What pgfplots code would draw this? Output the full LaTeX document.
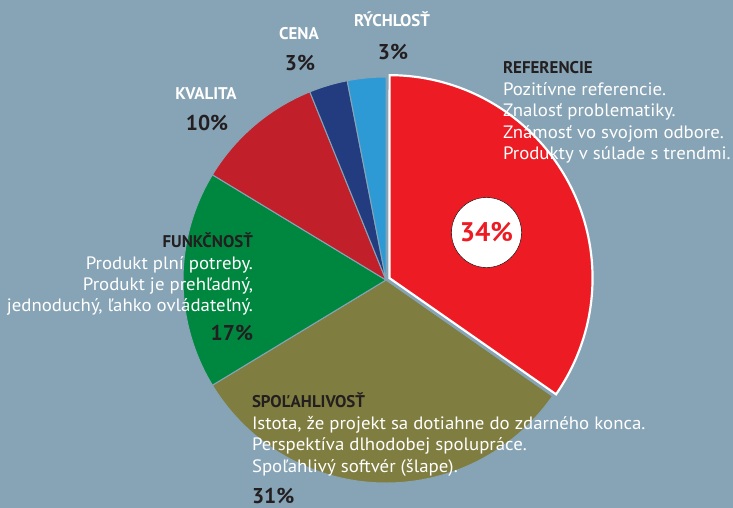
\documentclass[border=0pt]{standalone}
\usepackage{pgfplots}
\pgfplotsset{compat=1.18}
\usepackage{pgfplotstable}
\usepackage{fontspec}
\setmainfont{PT Sans}
\newfontfamily\descfont{PT Sans}[FakeStretch=1.05]
\definecolor{bgc}{HTML}{87A4B6}
\definecolor{redc}{HTML}{ED1C24}
\definecolor{olivec}{HTML}{7F7D3F}
\definecolor{greenc}{HTML}{00873F}
\definecolor{dredc}{HTML}{C1202A}
\definecolor{dbluec}{HTML}{233C80}
\definecolor{lbluec}{HTML}{2E9AD5}
\definecolor{txt}{HTML}{231F20}
\newcommand\desc{\descfont\fontsize{18}{18}\selectfont}
\newcommand\head{\bfseries\fontsize{17}{17}\selectfont}
\newcommand\pct{\bfseries\fontsize{21.5}{21.5}\selectfont}
\pgfplotstableread{
label value
Referencie 34
Spolahlivost 31
Funkcnost 17
Kvalita 10
Cena 3
Rychlost 3
}\pietable
\pgfplotstablegetelem{0}{value}\of\pietable\edef\vA{\pgfplotsretval}%
\pgfplotstablegetelem{1}{value}\of\pietable\edef\vB{\pgfplotsretval}%
\pgfplotstablegetelem{2}{value}\of\pietable\edef\vC{\pgfplotsretval}%
\pgfplotstablegetelem{3}{value}\of\pietable\edef\vD{\pgfplotsretval}%
\pgfplotstablegetelem{4}{value}\of\pietable\edef\vE{\pgfplotsretval}%
\pgfplotstablegetelem{5}{value}\of\pietable\edef\vF{\pgfplotsretval}%
\pgfmathsetmacro\tot{\vA+\vB+\vC+\vD+\vE+\vF}%
\pgfmathsetmacro\aA{90}%
\pgfmathsetmacro\aB{\aA-360*\vA/\tot}%
\pgfmathsetmacro\aC{\aB-360*\vB/\tot}%
\pgfmathsetmacro\aD{\aC-360*\vC/\tot}%
\pgfmathsetmacro\aE{\aD-360*\vD/\tot}%
\pgfmathsetmacro\aF{\aE-360*\vE/\tot}%
\pgfmathsetmacro\aG{\aF-360*\vF/\tot}%
\pgfmathsetmacro\mA{(\aA+\aB)/2}%
\pgfmathsetmacro\rcx{386+4*cos(\mA)}%
\pgfmathsetmacro\rcy{280-4*sin(\mA)}%
\begin{document}%
\begin{tikzpicture}[every node/.style={inner sep=0pt, outer sep=0pt}]
\begin{axis}[scale only axis, width=733bp, height=508bp,
  xmin=0, xmax=733, ymin=0, ymax=508, y dir=reverse,
  hide axis, clip=false]
\fill[bgc] (axis cs:0,0) rectangle (axis cs:733,508);
\addplot[fill=olivec, draw=bgc, line width=1pt, domain=\aC:\aB, samples=90, variable=\t]
  ({386+203*cos(\t)},{280-203*sin(\t)}) -- (axis cs:386,280) -- cycle;
\addplot[fill=greenc, draw=bgc, line width=1pt, domain=\aD:\aC, samples=60, variable=\t]
  ({386+203*cos(\t)},{280-203*sin(\t)}) -- (axis cs:386,280) -- cycle;
\addplot[fill=dredc, draw=bgc, line width=1pt, domain=\aE:\aD, samples=40, variable=\t]
  ({386+203*cos(\t)},{280-203*sin(\t)}) -- (axis cs:386,280) -- cycle;
\addplot[fill=dbluec, draw=bgc, line width=1pt, domain=\aF:\aE, samples=20, variable=\t]
  ({386+203*cos(\t)},{280-203*sin(\t)}) -- (axis cs:386,280) -- cycle;
\addplot[fill=lbluec, draw=bgc, line width=1pt, domain=\aG:\aF, samples=20, variable=\t]
  ({386+203*cos(\t)},{280-203*sin(\t)}) -- (axis cs:386,280) -- cycle;
\addplot[fill=redc, draw=white, line width=2.2pt, line join=miter, domain=\aB:\aA, samples=90, variable=\t]
  ({\rcx+203*cos(\t)},{\rcy-203*sin(\t)}) -- (axis cs:\rcx,\rcy) -- cycle;
\addplot[only marks, mark=*, mark size=35bp, mark options={fill=white, draw=none},
  nodes near coords={34\%}, nodes near coords align=center,
  every node near coord/.append style={anchor=center, text=redc, font=\bfseries\fontsize{27}{27}\selectfont}]
  coordinates {(486.5,232.5)};
% REFERENCIE
\node[anchor=base west, text=txt, font=\head] at (axis cs:503,74) {REFERENCIE};
\node[anchor=base west, text=white, font=\desc] at (axis cs:503,95) {Pozitívne referencie.};
\node[anchor=base west, text=white, font=\desc] at (axis cs:503,116.5) {Znalosť problematiky.};
\node[anchor=base west, text=white, font=\desc] at (axis cs:503,138) {Známosť vo svojom odbore.};
\node[anchor=base west, text=white, font=\desc] at (axis cs:503,159) {Produkty v súlade s trendmi.};
% RYCHLOST
\node[anchor=base, text=white, font=\head] at (axis cs:392,27) {RÝCHLOSŤ};
\node[anchor=base, text=txt, font=\pct] at (axis cs:393,60) {3\%};
% CENA
\node[anchor=base, text=white, font=\head] at (axis cs:299,40) {CENA};
\node[anchor=base, text=txt, font=\pct] at (axis cs:300,71) {3\%};
% KVALITA
\node[anchor=base, text=white, font=\head] at (axis cs:206,99) {KVALITA};
\node[anchor=base, text=txt, font=\pct] at (axis cs:207,130) {10\%};
% FUNKCNOST
\node[anchor=base east, text=txt, font=\head] at (axis cs:253,247) {FUNKČNOSŤ};
\node[anchor=base east, text=white, font=\desc] at (axis cs:253,269) {Produkt plní potreby.};
\node[anchor=base east, text=white, font=\desc] at (axis cs:253,290.5) {Produkt je prehľadný,};
\node[anchor=base east, text=white, font=\desc] at (axis cs:253,311) {jednoduchý, ľahko ovládateľný.};
\node[anchor=base east, text=txt, font=\pct] at (axis cs:253,340) {17\%};
% SPOLAHLIVOST
\node[anchor=base west, text=txt, font=\head] at (axis cs:252,407) {SPOĽAHLIVOSŤ};
\node[anchor=base west, text=white, font=\desc] at (axis cs:252,429) {Istota, že projekt sa dotiahne do zdarného konca.};
\node[anchor=base west, text=white, font=\desc] at (axis cs:252,450.5) {Perspektíva dlhodobej spolupráce.};
\node[anchor=base west, text=white, font=\desc] at (axis cs:252,472) {Spoľahlivý softvér (šlape).};
\node[anchor=base west, text=txt, font=\pct] at (axis cs:252,503) {31\%};
\end{axis}
\pgfresetboundingbox
\path[use as bounding box] (current axis.south west) rectangle (current axis.north east);
\end{tikzpicture}%
\end{document}
